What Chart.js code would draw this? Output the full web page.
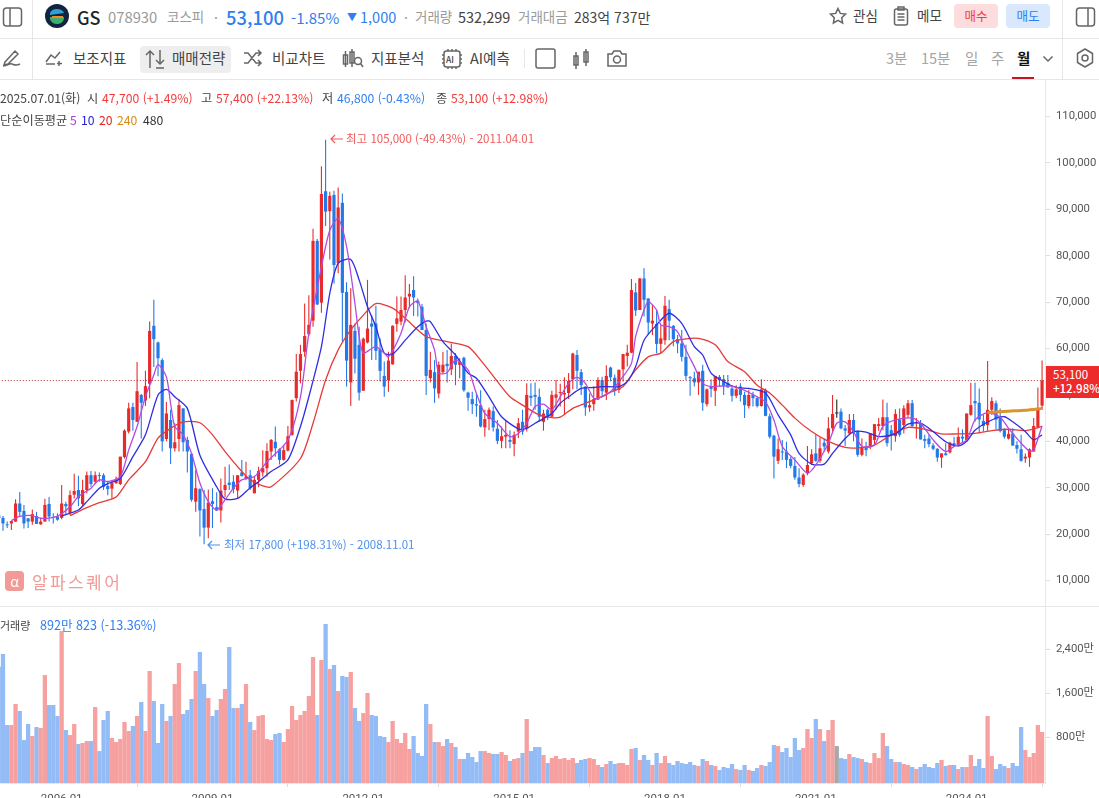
<!DOCTYPE html>
<html lang="ko">
<head>
<meta charset="utf-8">
<title>GS 078930</title>
<script src="https://cdn.jsdelivr.net/npm/chart.js@4"></script>
<style>
  html, body { margin: 0; padding: 0; background: #fff; }
  #page { position: relative; width: 1099px; height: 798px; overflow: hidden; font-family: "Noto Sans CJK KR", "Noto Sans", sans-serif; }
  canvas { position: absolute; left: 0; display: block; }
  .t { position: absolute; white-space: nowrap; line-height: 1; transform: translateY(-50%); }
  .g { color: #9a9a9a; } .d { color: #444; } .b { color: #2f7ff0; } .r { color: #f03c3c; }
  .s { font-size: 14px; }
  .i { font-size: 12.2px; }
  .tool { font-size: 14.5px; color: #444; top: 58px; }
  .per { font-size: 14.5px; color: #a5a5a5; top: 58px; }
  .line { position: absolute; background: #e6e6e6; }
  svg { position: absolute; fill: none; stroke: #666; stroke-width: 1.5; }
  .btn { position: absolute; top: 4px; width: 44px; height: 24px; border-radius: 4px; font-size: 12.5px; line-height: 24px; text-align: center; }
</style>
</head>
<body>
<div id="page">
  <canvas id="priceChart" width="1099" height="526" style="top:80px"></canvas>
  <canvas id="volumeChart" width="1099" height="191" style="top:607px"></canvas>

  <!-- header rows -->
  <div class="line" style="left:0;top:38px;width:1099px;height:1px"></div>
  <div class="line" style="left:0;top:79px;width:1099px;height:1px"></div>
  <div class="line" style="left:32px;top:0;width:1px;height:79px"></div>
  <div class="line" style="left:1062px;top:0;width:1px;height:79px"></div>
  <div class="line" style="left:0;top:606px;width:1099px;height:1px"></div>

  <svg style="left:2px;top:6px" width="22" height="22"><rect x="1.5" y="2" width="18" height="18" rx="3"/><line x1="8" y1="2" x2="8" y2="20"/></svg>
  <svg style="left:45px;top:4px;stroke:none" width="24" height="24"><circle cx="12" cy="12" r="12" fill="#10233f"/><path d="M5 11a7 5 0 0 1 14-2z" fill="#2f9fd8"/><path d="M5 13h14a7 6 0 0 1-14 2z" fill="#3fae6a"/><path d="M7 12h11v2H7z" fill="#f08a24"/></svg>
  <span class="t" style="left:77px;top:17px;font-size:18px;font-weight:500;color:#222">GS</span>
  <span class="t g" style="left:108px;top:17px;font-size:14.8px">078930</span>
  <span class="t g s" style="left:167px;top:17px;font-size:13.5px">코스피</span>
  <span class="t g s" style="left:214px;top:17px">·</span>
  <span class="t b" style="left:226px;top:17px;font-size:18.4px;font-weight:500">53,100</span>
  <span class="t b" style="left:291px;top:17px;font-size:15px">-1.85%</span>
  <span class="t b" style="left:347px;top:17px;font-size:10px">▼</span>
  <span class="t b" style="left:360px;top:17px;font-size:14.5px">1,000</span>
  <span class="t g s" style="left:404px;top:17px">·</span>
  <span class="t g s" style="left:415px;top:17px;font-size:13.5px">거래량</span>
  <span class="t d s" style="left:458px;top:17px;font-size:14.500px">532,299</span>
  <span class="t g s" style="left:518px;top:17px;font-size:13.5px">거래대금</span>
  <span class="t d s" style="left:574px;top:17px">283억 737만</span>

  <svg style="left:829px;top:7px" width="18" height="18"><path d="M9 1.5l2.3 4.9 5.2.7-3.8 3.6.9 5.3L9 13.4l-4.6 2.6.9-5.3L1.5 7.1l5.2-.7z"/></svg>
  <span class="t d s" style="left:853px;top:16px;font-size:13.5px">관심</span>
  <svg style="left:893px;top:6px" width="17" height="20"><rect x="1.5" y="3" width="13" height="16" rx="2"/><rect x="5" y="1" width="6" height="3"/><line x1="4.5" y1="8" x2="11.5" y2="8"/><line x1="4.5" y1="11" x2="11.5" y2="11"/><line x1="4.5" y1="14" x2="11.5" y2="14"/></svg>
  <span class="t d s" style="left:917px;top:16px;font-size:13.5px">메모</span>
  <div class="btn r" style="left:954px;background:#fcdcdc">매수</div>
  <div class="btn b" style="left:1006px;background:#d9e8fc">매도</div>
  <svg style="left:1075px;top:6px" width="22" height="22"><rect x="1.5" y="2" width="18" height="18" rx="3"/><line x1="13" y1="2" x2="13" y2="20"/></svg>

  <svg style="left:2px;top:48px" width="20" height="20"><path d="M3 14L13 3l3 3-10 10-4 1zM1 18c5 0 6-3 9-2s4 2 8 0"/></svg>
  <svg style="left:45px;top:50px" width="19" height="16"><path d="M1 12l5-7 4 3 5-6M1 14h9M14 11v5M12 13.500h5"/></svg>
  <span class="t tool" style="left:73px">보조지표</span>
  <div style="position:absolute;left:140px;top:46px;width:91px;height:27px;background:#eeeeee;border-radius:4px"></div>
  <svg style="left:144px;top:48px" width="24" height="22"><path d="M6 20V3M2 7l4-4 4 4M16 2v14M12 12l4 4 4-4M12 20h8"/></svg>
  <span class="t tool" style="left:172px">매매전략</span>
  <svg style="left:243px;top:49px" width="20" height="18"><path d="M1 4h4l8 10h4M1 14h4l8-10h4M15 1l3 3-3 3M15 11l3 3-3 3"/></svg>
  <span class="t tool" style="left:272px">비교차트</span>
  <svg style="left:342px;top:48px" width="22" height="21"><rect x="1.5" y="7" width="4" height="9"/><line x1="3.500" y1="3" x2="3.500" y2="19"/><rect x="8" y="4" width="4" height="11"/><line x1="10" y1="1" x2="10" y2="19"/><circle cx="16" cy="13" r="3.500"/><line x1="18.500" y1="15.500" x2="21" y2="19"/></svg>
  <span class="t tool" style="left:371px">지표분석</span>
  <svg style="left:441px;top:48px" width="22" height="22"><rect x="3" y="3" width="16" height="16" rx="2.500"/><path d="M7 1v2M11 1v2M15 1v2M7 19v2M11 19v2M15 19v2M1 7h2M1 11h2M1 15h2M19 7h2M19 11h2M19 15h2"/></svg>
  <span class="t" style="left:446px;top:59px;font-size:8.5px;color:#444;font-weight:500">AI</span>
  <span class="t tool" style="left:470px">AI예측</span>
  <div class="line" style="left:524px;top:49px;width:1px;height:19px"></div>
  <svg style="left:535px;top:48px" width="21" height="21"><rect x="1" y="1" width="19" height="19" rx="2"/></svg>
  <svg style="left:572px;top:48px" width="20" height="22"><rect x="2" y="8" width="4" height="9"/><line x1="4" y1="4" x2="4" y2="21"/><rect x="12" y="4" width="4" height="10"/><line x1="14" y1="1" x2="14" y2="18"/></svg>
  <svg style="left:606px;top:49px" width="22" height="19"><path d="M2 5h4l2-3h6l2 3h4v12H2z"/><circle cx="11" cy="10.500" r="3.500"/></svg>
  <span class="t per" style="left:886px">3분</span>
  <span class="t per" style="left:921px">15분</span>
  <span class="t per" style="left:965px">일</span>
  <span class="t per" style="left:991px">주</span>
  <span class="t per" style="left:1017px;color:#111;font-weight:700">월</span>
  <div style="position:absolute;left:1012px;top:77px;width:22px;height:2px;background:#c8161d"></div>
  <svg style="left:1042px;top:55px" width="12" height="8"><path d="M1.5 1.500L6 6l4.500-4.500"/></svg>
  <svg style="left:1075px;top:48px" width="20" height="21"><path d="M10 1l7.500 4.500v9L10 19l-7.500-4.500v-9z" stroke-linejoin="round"/><circle cx="10" cy="10" r="3"/></svg>

  <!-- info lines over the price pane -->
  <span class="t d i" style="left:0;top:98px">2025.07.01(화)</span>
  <span class="t d i" style="left:87px;top:98px">시</span>
  <span class="t r i" style="left:102px;top:98px">47,700 (+1.49%)</span>
  <span class="t d i" style="left:201px;top:98px">고</span>
  <span class="t r i" style="left:216px;top:98px">57,400 (+22.13%)</span>
  <span class="t d i" style="left:322px;top:98px">저</span>
  <span class="t b i" style="left:337px;top:98px">46,800 (-0.43%)</span>
  <span class="t d i" style="left:436px;top:98px">종</span>
  <span class="t r i" style="left:451px;top:98px">53,100 (+12.98%)</span>
  <span class="t d i" style="left:0;top:120px">단순이동평균</span>
  <span class="t i" style="left:70px;top:120px;color:#a43ce0">5</span>
  <span class="t i" style="left:81px;top:120px;color:#2222dd">10</span>
  <span class="t i" style="left:99px;top:120px;color:#e82020">20</span>
  <span class="t i" style="left:117px;top:120px;color:#d98a14">240</span>
  <span class="t i" style="left:143px;top:120px;color:#333">480</span>

  <!-- high and low notes -->
  <svg style="left:330px;top:134px;stroke:#f05b5b;stroke-width:1.2" width="14" height="10"><path d="M13 5H1M5 1L1 5l4 4"/></svg>
  <span class="t" style="left:346px;top:139px;font-size:11.5px;color:#f05b5b">최고 105,000 (-49.43%) - 2011.04.01</span>
  <svg style="left:207px;top:540px;stroke:#4d90ee;stroke-width:1.2" width="14" height="10"><path d="M13 5H1M5 1L1 5l4 4"/></svg>
  <span class="t" style="left:224px;top:545px;font-size:11.5px;color:#4d90ee">최저 17,800 (+198.31%) - 2008.11.01</span>

  <!-- watermark -->
  <div style="position:absolute;left:5px;top:571px;width:19px;height:20px;border-radius:4px;background:#f19a96;color:#fff;font-size:14px;line-height:21px;text-align:center">α</div>
  <span class="t" style="left:32px;top:581px;font-size:17px;letter-spacing:2.4px;color:#f19a96">알파스퀘어</span>

  <!-- current price tag -->
  <div style="position:absolute;left:1046px;top:366px;width:53px;height:32px;background:#ee2b2b"></div>
  <span class="t" style="left:1053px;top:375px;font-size:11.5px;color:#fff">53,100</span>
  <span class="t" style="left:1053px;top:389px;font-size:11.5px;font-weight:500;color:#fff">+12.98%</span>

  <span class="t d" style="left:0;top:625px;font-size:11px">거래량</span>
  <span class="t b" style="left:40px;top:625px;font-size:12.6px">892만 823 (-13.36%)</span>
</div>

<script>
// monthly candles, 2004.10 to 2025.07, price in thousand won
const opens = [
  24,23.5,22.1,22.3,22.7,26.6,25,23.4,22.7,23.9,
  22.1,22.7,26.5,23.7,23.8,23.5,26.5,24.5,28.5,29.5,
  26.5,29.5,32.7,31.3,32.7,32.7,30.4,29.8,31,30.8,
  36.6,42.1,47.4,44.2,50,48.8,52.4,64.9,61.3,57.5,
  40.5,44.6,38.5,40.5,47.1,40.3,37.3,27,29.7,25.4,
  21.4,27.1,25.8,25.1,29.5,31.1,31.3,29.4,33.3,32,
  32.7,28.8,31.7,33.3,34.2,37.8,39.9,38.3,36,38,
  41.4,49.3,55.2,59.3,63.1,66,83.2,69.9,93.9,89.6,
  93.1,78.4,91.4,72.2,52.7,63.8,60.8,50.9,61.3,65.4,
  65.4,59.8,54.1,53.2,56.6,65.3,65.8,68.3,71.2,72.6,
  70.3,69,64,53.6,54.9,50.3,54.9,56.7,55.5,58.4,
  56.5,58,50.5,49.1,48,47.8,43,44.8,46.5,42.7,
  40.1,41,40.3,39.4,42.1,44.2,42.8,49.8,50,49.6,
  44.2,46.8,45.3,49.4,50.4,50.1,50.4,53.4,58.6,54.9,
  51.8,47.3,48,49,53.2,50.5,55.9,53.7,51.1,55.5,
  58.4,59.1,72.1,68.3,75.1,70.8,65.4,65.3,61,61.8,
  68.5,64.9,62,61.1,58.2,53.8,53.6,52.7,55.2,48,
  51.9,50.9,53.9,53.4,52.6,51.4,49.8,51.8,50,47.6,
  50,49.3,47.6,51.1,45.4,41.2,35.8,37.8,37.8,36.2,
  34.7,32.2,30.6,33.1,35.3,37.4,35.8,39.7,37.8,42.8,
  46,46.4,42.8,41.7,44.6,42.1,37.1,38.7,38.7,40.3,
  43.3,43.3,45.2,42.4,41.1,44.7,43.5,45.7,48.2,43.9,
  43.9,40.5,40.6,39.1,38.4,36.5,37.4,37.6,39.6,39.2,
  41,40.3,45.7,48.7,48.3,44.4,43.5,46.8,48.2,45.2,
  42.4,40.6,41.7,39.2,38.3,36.3,36.5,37.8,43,47.7
];
const closes = [
  23.5,22.3,21.9,22.8,26.6,24.8,22.3,22.7,24.3,22.2,
  22.7,26.3,23.8,23.5,23.1,26.6,26,28.4,29.3,27.7,
  29.5,32.7,30.8,32.7,32.5,30.2,29.7,31,31.8,36.7,
  42.3,47.1,44.6,50.8,48.3,51.9,63.8,62,57.9,40,
  46,38.5,39.8,47.8,39.8,37.8,27.4,29.9,25.1,21.4,
  26.8,26.5,25.1,29.4,30.6,30.6,29.7,32.7,32.5,32.4,
  29.9,31.7,33.6,34.2,37.9,40.3,38.5,36,38.1,41.1,
  48.9,55,58.8,62.7,65.1,83.2,69.5,93.3,89.5,92.9,
  78,90.4,72,57.4,65.1,57.8,50.5,62.1,64.3,64.7,
  59.5,55.2,51.8,57.4,64.9,66.5,68.3,71,71.8,71,
  69.8,64,54.1,55.4,51.4,56.5,56.5,56.2,58.4,56.5,
  57.2,51,49.4,48,47.7,43.2,44.8,46.8,43,40.1,
  41.1,41.4,39.9,41.4,43.9,42.1,50,49.4,49.6,45.3,
  46,45.2,50,50.1,50.6,50.4,53,58.9,55.2,52.1,
  47.3,47.8,49.1,53.2,50.8,54.1,53.8,50.9,55.4,58.8,
  59.1,72.6,68.2,75.1,70.5,65.6,66,61,62.2,69.2,
  66,62,61.1,58.2,54.1,53.6,52.7,55,48.3,51.2,
  51.3,54.1,53.2,51.9,51.6,49.8,51.2,50,47.8,50,
  49.3,47.6,51.2,45.5,41,36.7,38.3,37.6,36,34.7,
  32.2,30.8,32.8,34.9,37.2,35.8,38.5,38.9,42.8,45.9,
  46,42.8,42.3,44.6,41.7,37.1,38.7,38.1,41.7,43.7,
  43.7,45.2,39.6,41.4,45.9,41.4,47.1,48.2,43.3,44,
  40.4,40.1,39.4,38.4,36.5,37.4,37,39.7,39,41,
  40.6,46,47.8,48.2,44.7,43.3,46.8,48.7,44.7,42.2,
  41,41.6,39.1,38.4,35.8,36.7,38.3,43.3,47,53.1
];
const highs = [
  25.1,23.9,22.7,22.9,27.5,29.1,26.3,23.4,25.3,24.8,
  23.6,27.6,28,24.5,24.5,30.6,27,29.4,33,32.6,
  31.7,33.5,33.6,33.5,33.3,33.1,31.5,31.5,32.4,36.7,
  42.6,48.3,48.3,57.1,50.2,55.2,65.8,70.5,61.5,57.9,
  48.5,46.8,43.9,49.1,47.1,41,37.4,33.8,29.9,29.5,
  29.6,29.9,29,32,34.5,35,32.7,32.7,36,35.6,
  33.8,32.4,34.5,38.1,39.6,40.5,43.2,38.5,39.2,43.3,
  49,58.8,60.8,69.7,71.5,85.8,83.6,99.3,105,93.8,
  94,94.7,93.4,74.3,73,65.4,64.7,62.4,74.8,67.2,
  69.2,62.2,57.2,59.3,65,71.2,71.2,75.8,73.9,75.6,
  70.8,69.6,65.4,59.3,57.5,57.2,59.3,59.7,61.1,59,
  57.9,58.2,50.7,50.7,50.3,51,46.8,47.3,47.5,44.6,
  43.2,44.6,42.4,42.1,45,46.8,52.5,52.5,52.7,51.4,
  46.8,47.1,50.9,53.2,52.4,53.8,54.7,59.1,59.7,55.6,
  51.8,50.3,51.8,53.8,53.9,56.4,56.1,54.4,55.5,58.8,
  60.8,75,74.1,75.2,77.3,70.8,69.4,68.3,65,71.3,
  70.5,65,62.9,64,60.8,54.1,55,55,56.5,51.4,
  53.4,54.1,54.3,54.3,54.3,52.1,52.1,52.5,50.7,51.1,
  50.7,49.6,53.4,51.4,46,41.4,40.6,40.3,39.9,36.7,
  36.6,34.2,33.1,39,38.3,41.5,40.8,40.6,45.2,50,
  49,47.1,43.5,45.9,45.9,42.4,40.6,39.9,41.7,43.7,
  45,49,48.3,43.5,46.9,47.1,47.8,48.9,48.9,45,
  44.6,41.4,41.4,39.6,38.5,37.4,39.6,39.9,41,43,
  42.6,46,52.6,52.6,51.4,45.7,57.3,49.5,48.8,47.1,
  42.8,42.8,42.8,40,41.4,37.4,38.5,45,51.6,57.4
];
const lows = [
  23,20.75,21.3,20.9,22.7,23.8,21.2,21.3,22,22.2,
  22,22.7,22.7,22.3,22.9,23.2,24.1,24.1,27.7,26,
  26,28.8,30.2,30.8,31.3,29.5,28.4,27.7,30.8,30.6,
  36.3,41.7,42.3,44.2,40.6,47.6,49.3,56,54,37.8,
  40,35.1,37.8,37.8,37.8,33.3,27,24.8,19.5,17.8,
  19.1,21.3,25,22.5,28,29.5,28.8,27.7,32.4,31.7,
  29.5,28.8,30.1,32.4,32.4,36,36.7,35,35.8,37.8,
  41.2,48.6,52.5,58.2,62.7,64.7,69.4,67.7,86.4,79.2,
  74,76.2,61.5,51.8,47.6,54.6,48.8,50.9,61.1,57.5,
  57.5,52.9,49.6,50.7,56.5,63.6,65,65.6,68.7,67,
  66.9,64,50,52.7,48.3,49.3,54.6,52.7,54.3,52.1,
  53.6,50.7,46.6,45.9,45.3,43,41,42.4,42.1,39.4,
  38.5,38.5,38.5,36.8,40.7,41.4,42.1,47.6,46.8,44.2,
  42.3,44.6,45.3,46.8,47.5,45.7,49.1,51.2,51.2,50,
  45.5,46.4,46.6,48.9,49.6,48.9,52.9,49.8,50.4,52.9,
  56.1,59,67,68.3,66.9,62.9,62.9,59,59,60.8,
  61.8,60.5,59,57.2,53.2,49.8,51.8,50,46.6,47.5,
  49.5,47.6,51.8,50,51.6,48.6,49.3,48.6,45,47.1,
  47.5,47.3,47.5,45.4,40.6,32,35.1,36,34.2,34.2,
  31.7,30.1,30.2,32.7,34.9,35.6,35.4,37.8,37.4,42.1,
  45.1,42.6,39,41.4,40,36.7,36.8,36.8,38.3,39.4,
  42.3,42.4,38.9,38,39.9,41,41.7,45,43,40.6,
  40.4,38.5,38.7,38.1,35.6,34.3,37,37.4,38.8,38.9,
  39.6,40,45.5,44.2,41.7,42.1,42.3,45.7,42.6,41.9,
  40.6,40.4,39,37.4,35.6,35.4,34.5,37.8,42.8,46.8
];
// volume in units of 만 (10,000 shares)
const volumes = [
  2079,2309,1018,1018,1400,1273,745,1036,818,982,
  964,1927,1382,1382,1182,2727,927,836,1036,673,
  691,727,727,1345,545,1109,1273,782,709,764,
  1073,909,1000,1182,1436,909,2000,1454,691,1400,
  1091,1182,1763,2145,1218,1291,1491,2000,2345,1763,
  1509,1182,1291,1491,1673,2436,1327,1327,1400,1763,
  1073,927,1182,1200,764,745,854,873,709,945,
  1364,1109,1200,1273,1545,2254,1200,2200,2854,2036,
  2109,1636,1909,1891,1982,1327,1091,1236,1600,1200,
  1182,818,800,709,1091,764,691,873,582,818,
  509,455,1400,1036,709,709,636,764,691,618,
  400,400,509,436,345,545,545,509,491,491,
  527,473,364,400,418,509,1127,545,618,618,
  473,327,418,455,400,418,382,418,327,382,
  400,418,400,291,255,309,364,309,327,327,
  291,582,600,382,473,382,291,509,327,455,
  327,291,364,327,309,345,291,273,400,364,
  291,273,200,255,236,309,218,200,291,200,
  182,236,291,273,345,654,636,527,600,436,
  782,564,600,945,782,1127,945,727,927,1109,
  636,418,400,491,436,418,400,345,327,509,
  418,873,636,400,345,345,309,291,255,218,
  255,309,255,236,327,382,273,291,291,218,
  255,255,473,273,400,236,1182,455,218,309,
  273,236,327,273,982,564,436,509,1018,892
];

// moving averages as [month index, value]
const ma5 = [[3,22.9],[5,23.8],[8,24],[10,23.4],[14,23.9],[17,25.9],[19,28.1],[22,29.9],[24,31.7],[26,31.3],[29,32.4],[31,38.1],[33,43.2],[35,49.6],[37,54.3],[38,56.6],[40,53.9],[41,48.2],[42,43.2],[44,41.4],[46,37.4],[48,31],[50,27],[52,25.2],[54,27.4],[56,29.9],[58,31.7],[61,32.4],[64,35.6],
  [69,40.3],[72,49.6],[74,63.3],[77,77.6],[79,85.5],[81,88],[83,82],[85,69.7],[86,62.6],[87,59],[89,60],[90,60.4],[92,59],[93,58.2],[96,63.3],[98,69],[100,70.2],[102,64.7],[104,59.7],[105,54.7],[107,54.8],[109,57.5],[112,55.4],[114,50.3],[116,46],[119,43.9],[122,41],[124,41.7],[126,43.9],[128,47.5],
  [130,48],[132,46.8],[134,49.6],[136,52.5],[138,53.8],[140,52.5],[142,49.3],[144,49.6],[146,50.7],[149,54],[151,56.8],[152,62.6],[154,68.3],[155,70.1],[157,68.3],[158,65.1],[160,64.7],[162,63.6],[164,59.7],[166,56.1],[168,52.5],[170,51.8],[172,51.9],[175,51.9],[178,51],[181,49.6],[183,48.5],[185,44.6],[187,38.9],[190,36],[193,33.1],
  [195,34.9],[198,39.6],[200,43.9],[202,44.2],[204,42.1],[206,38.9],[209,39.2],[211,43.2],[214,44.6],[218,45],[220,43.9],[223,40.3],[226,37.8],[228,38.9],[231,40.3],[233,44.6],[236,46.2],[239,45.2],[241,42.8],[244,39.6],[246,37.9],[247,38.1],[249,43.3]];
const ma10 = [[15,23.9],[19,25.2],[21,27],[24,29.9],[26,30.9],[29,32],[32,36.7],[35,41.4],[38,50],[40,51.2],[42,49.6],[45,47.1],[48,37],[52,30.2],[54,27.6],[57,27.7],[60,30],[62,31.3],[65,33.5],
  [69,36],[72,43.2],[74,49.6],[77,60.4],[79,71.9],[81,78.4],[84,79.2],[86,74.8],[88,69],[90,64.7],[92,59],[94,58.8],[97,61.8],[100,64.7],[102,65.9],[103,65.8],[106,61.5],[109,58.6],[112,54.7],[114,53.6],[117,49.6],[120,45.3],[124,42.7],[126,42.8],[128,43.9],
  [130,44.9],[132,46],[134,48.2],[136,49.6],[139,51.4],[142,51.6],[144,51.8],[148,51.8],[150,52.9],[152,56.1],[154,61.8],[157,65.1],[160,67.6],[163,65.4],[166,60.4],[168,58.6],[170,54.7],[173,52.9],[176,51.6],[179,51.4],[183,50.4],[186,45.7],[189,41.4],[191,37.4],[194,35.1],
  [197,35.1],[199,37.4],[202,40.6],[204,42.1],[207,42],[210,41],[214,41.6],[217,43.7],[220,43.9],[223,42.1],[226,39.9],[229,39],[231,40],[233,42.4],[237,44.6],[240,45.3],[242,44.2],[245,42.1],[247,40.3],[249,41.4]];
const ma20 = [[17,24],[21,25.7],[24,26.8],[28,28],[31,31.7],[35,35.6],[38,40.7],[41,42.8],[44,44.2],[48,44],[51,41.4],[54,37.8],[58,33.5],[60,31.7],[63,30.4],[65,30.2],
  [72,36.3],[75,43.9],[78,53.2],[81,59.7],[84,64],[87,67.2],[90,69.7],[94,68.7],[97,66.5],[102,62.6],[107,61.5],[112,60.4],[115,57.5],[119,52.9],[122,49.6],[125,47.8],[129,45.7],
  [132,45.1],[134,45.2],[137,47.1],[140,48.2],[143,49.3],[146,50.6],[149,51.8],[152,55.4],[155,58.2],[158,59],[161,61.5],[164,62.1],[167,62.2],[171,60.8],[174,57.2],[178,55],[181,52.1],[184,50.4],[187,47.8],[190,45],[194,42.1],
  [198,40],[202,38.7],[205,38.6],[209,39.2],[213,41.4],[217,43],[221,42.6],[225,41.6],[229,41.6],[233,41.7],[237,42.3],[241,42.6],[245,42.3],[249,43.2]];
const ma240 = [[236,46.2],[241,46.5],[245,46.7],[249,47.1]];
const lastClose = [[0,53.1],[250,53.1]];

const priceTicks = [10,20,30,40,50,60,70,80,90,100,110];
const volumeTicks = [800,1600,2400];
const xTickMonths = [15,51,87,123,159,195,231];
const xTickLabels = ["2006.01","2009.01","2012.01","2015.01","2018.01","2021.01","2024.01"];

const RED = '#e92a2a', BLUE = '#2379e8', FLAT = '#222222';
const VOL_RED = '#f6a0a0', VOL_BLUE = '#93bbf6', VOL_FLAT = '#a8a8a8';
const toXY = pairs => pairs.map(p => ({ x: p[0], y: p[1] }));
const upDown = (i, up, down, flat) => closes[i] > opens[i] ? up : closes[i] < opens[i] ? down : flat;

// x range chosen so that month spacing and the cut-off first candle match the screen
const xAxisRange = { type: 'linear', min: 0.286, max: 249.7, offset: false };

// the panes have to fill their canvas exactly, so drop the label padding chart.js adds
function fixedWidth(scale) {
    scale.width = 54;
    scale.paddingTop = 0;
    scale.paddingBottom = 0;
}

function maLine(pairs, color, width, order) {
    return {
        type: 'line', data: toXY(pairs), borderColor: color, borderWidth: width,
        pointRadius: 0, tension: 0.25, order: order
    };
}

new Chart(document.getElementById('priceChart').getContext('2d'), {
    type: 'bar',
    data: {
        datasets: [
            maLine(ma5, '#b44be0', 1.3, 2),
            maLine(ma10, '#2f2de2', 1.3, 3),
            maLine(ma20, '#e63a3a', 1.3, 4),
            maLine(ma240, '#d9952c', 3, 1),
            { type: 'line', data: toXY(lastClose), borderColor: '#b03030', borderWidth: 1, borderDash: [1, 2], pointRadius: 0, order: 0 },
            {
                // wicks
                data: lows.map((v, i) => ({ x: i, y: [v, highs[i]] })),
                backgroundColor: lows.map((v, i) => upDown(i, RED, BLUE, FLAT)),
                grouped: false, barPercentage: 0.26, categoryPercentage: 1, order: 6
            },
            {
                // bodies
                data: opens.map((v, i) => ({ x: i, y: [v, closes[i]] })),
                backgroundColor: opens.map((v, i) => upDown(i, RED, BLUE, FLAT)),
                grouped: false, barPercentage: 0.76, categoryPercentage: 1, minBarLength: 1, order: 5
            }
        ]
    },
    options: {
        responsive: false,
        animation: false,
        layout: { autoPadding: false },
        plugins: { legend: { display: false }, tooltip: { enabled: false } },
        scales: {
            x: { ...xAxisRange, display: false },
            y: {
                position: 'right',
                min: 4.51,
                max: 117.87,
                afterFit: fixedWidth,
                afterBuildTicks: axis => { axis.ticks = priceTicks.map(v => ({ value: v })); },
                border: { color: '#e8e8e8' },
                grid: { drawOnChartArea: false, tickLength: 5, tickColor: '#dddddd' },
                ticks: {
                    padding: 6, color: '#555', font: { family: 'Roboto', size: 11.3 },
                    callback: v => v + ',000'
                }
            }
        }
    }
});

new Chart(document.getElementById('volumeChart').getContext('2d'), {
    type: 'bar',
    data: {
        datasets: [{
            data: volumes.map((v, i) => ({ x: i, y: v })),
            backgroundColor: volumes.map((v, i) => upDown(i, VOL_RED, VOL_BLUE, VOL_FLAT)),
            grouped: false, barPercentage: 1.02, categoryPercentage: 1, base: -36
        }]
    },
    options: {
        responsive: false,
        animation: false,
        layout: { autoPadding: false },
        plugins: { legend: { display: false }, tooltip: { enabled: false } },
        scales: {
            x: {
                ...xAxisRange,
                afterFit: scale => { scale.height = 15; scale.paddingLeft = 0; scale.paddingRight = 0; },
                afterBuildTicks: axis => { axis.ticks = xTickMonths.map(v => ({ value: v })); },
                border: { color: '#e8e8e8' },
                grid: { drawOnChartArea: false, tickLength: 4, tickColor: '#dddddd' },
                ticks: {
                    padding: 5, maxRotation: 0, autoSkip: false, color: '#555',
                    font: { family: 'Roboto', size: 11.5 },
                    callback: v => xTickLabels[xTickMonths.indexOf(v)]
                }
            },
            y: {
                position: 'right',
                min: -36,
                max: 3164,
                afterFit: fixedWidth,
                afterBuildTicks: axis => { axis.ticks = volumeTicks.map(v => ({ value: v })); },
                border: { color: '#e8e8e8' },
                grid: { drawOnChartArea: false, tickLength: 5, tickColor: '#dddddd' },
                ticks: {
                    padding: 6, color: '#555', font: { family: 'Roboto, "Noto Sans CJK KR"', size: 11.3 },
                    callback: v => v.toLocaleString('en-US') + '만'
                }
            }
        }
    }
});
</script>
</body>
</html>
